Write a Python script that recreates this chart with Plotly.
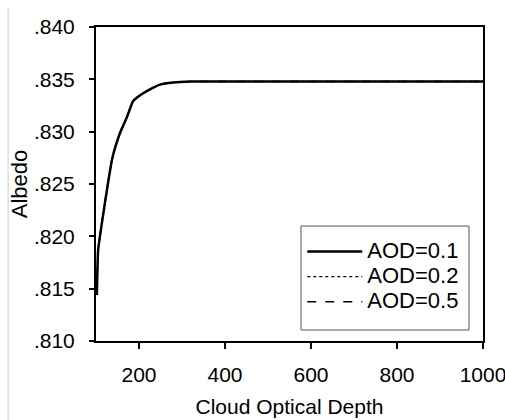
import plotly.graph_objects as go

tau = [102, 105, 116, 128, 137, 144, 156, 172, 186, 200, 219, 249, 279, 319, 400, 500, 600, 700, 800, 900, 1000]
alb_01 = [0.8144, 0.8187, 0.8219, 0.8251, 0.8273, 0.8284, 0.8299, 0.8314, 0.8329, 0.8334, 0.8339, 0.8345, 0.8347, 0.8348, 0.8348, 0.8348, 0.8348, 0.8348, 0.8348, 0.8348, 0.8348]
alb_02 = [0.8144, 0.8187, 0.8219, 0.8251, 0.8273, 0.8284, 0.8299, 0.8314, 0.8329, 0.8334, 0.8339, 0.8345, 0.8347, 0.8348, 0.8348, 0.8348, 0.8348, 0.8348, 0.8348, 0.8348, 0.8348]
alb_05 = [0.8145, 0.8188, 0.8220, 0.8252, 0.8273, 0.8285, 0.8299, 0.8314, 0.8329, 0.8334, 0.8339, 0.8345, 0.8347, 0.8348, 0.8348, 0.8348, 0.8348, 0.8348, 0.8348, 0.8348, 0.8348]
series_names = ["AOD=0.1", "AOD=0.2", "AOD=0.5"]

y_tickvals = [0.810, 0.815, 0.820, 0.825, 0.830, 0.835, 0.840]
y_ticktext = [".810", ".815", ".820", ".825", ".830", ".835", ".840"]
x_tickvals = [200, 400, 600, 800, 1000]
x_ticktext = ["200", "400", "600", "800", "1000"]

font = "Liberation Sans, Arial, sans-serif"


def big(name):
    return '<span style="font-size:22px">' + name + '</span>'


fig = go.Figure()
fig.add_trace(go.Scatter(x=tau, y=alb_01, mode="lines", name=big(series_names[0]),
                         line=dict(color="black", width=2.5, dash="solid", shape="spline", smoothing=0.4)))
fig.add_trace(go.Scatter(x=tau, y=alb_02, mode="lines", name=big(series_names[1]),
                         line=dict(color="black", width=1.2, dash="dot", shape="spline", smoothing=0.4)))
fig.add_trace(go.Scatter(x=tau, y=alb_05, mode="lines", name=big(series_names[2]),
                         line=dict(color="black", width=1.5, dash="dash", shape="spline", smoothing=0.4)))

fig.update_layout(
    width=505, height=420,
    margin=dict(l=96, r=22, t=27, b=79, autoexpand=False),
    paper_bgcolor="white", plot_bgcolor="white",
    font=dict(family=font, size=21, color="black"),
    showlegend=True,
    legend=dict(x=0.533, y=0.341, xanchor="left", yanchor="top",
                borderwidth=0, bgcolor="rgba(0,0,0,0)",
                font=dict(family=font, size=17, color="black"),
                itemwidth=55, tracegroupgap=0),
    xaxis=dict(range=[100, 1000], tickvals=x_tickvals, ticktext=x_ticktext,
               showgrid=False, zeroline=False, showline=True, linecolor="black",
               linewidth=2, mirror=True, ticks="outside", ticklen=6, tickwidth=1.5,
               tickcolor="black", ticklabelstandoff=8, ticklabeloverflow="allow",
               automargin=False,
               tickfont=dict(size=21),
               title=dict(text="Cloud Optical Depth", font=dict(size=21), standoff=14)),
    yaxis=dict(range=[0.810, 0.840], tickvals=y_tickvals, ticktext=y_ticktext,
               showgrid=False, zeroline=False, showline=True, linecolor="black",
               linewidth=2, mirror=True, ticks="outside", ticklen=5, tickwidth=1.5,
               tickcolor="black", ticklabelstandoff=10, automargin=False,
               tickfont=dict(size=21),
               title=dict(text="Albedo", font=dict(size=22), standoff=0)),
)

# legend frame
fig.add_shape(type="rect", xref="paper", yref="paper",
              x0=0.5297, x1=0.9638, y0=0.035, y1=0.366,
              line=dict(color="#555555", width=1), fillcolor="white", layer="below")

fig.add_shape(type="line", xref="paper", yref="paper",
              x0=-0.227, x1=-0.227, y0=-0.3, y1=1.06,
              line=dict(color="#d0d0d0", width=1))

# remove the default 8px page margin so the 505x420 figure fills the window
fig.write_html("out.html", config={"displayModeBar": False},
               post_script="document.body.style.margin='0';")
